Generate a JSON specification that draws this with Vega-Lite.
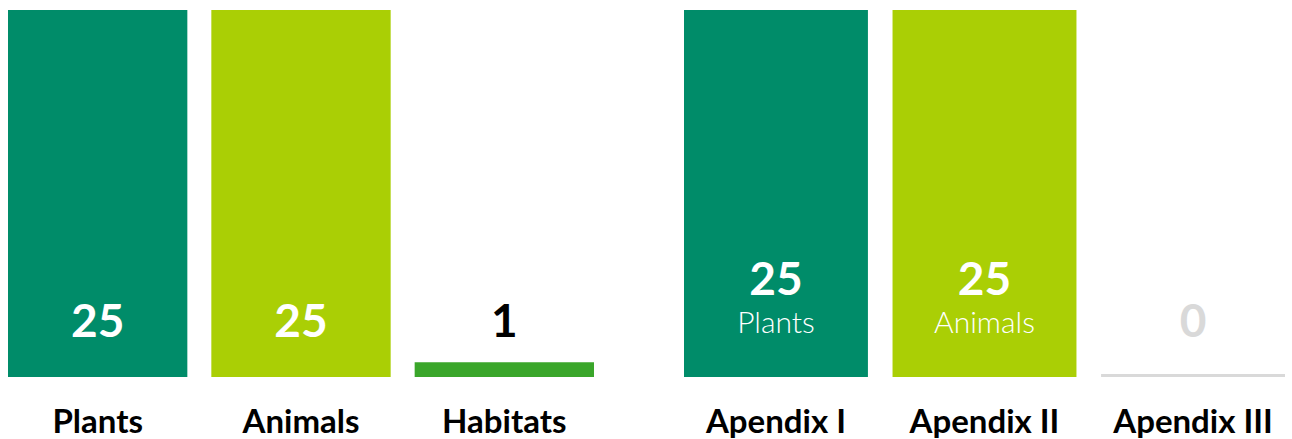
{
  "$schema": "https://vega.github.io/schema/vega-lite/v6.json",
  "padding": {"left": 8, "top": 10, "right": 7, "bottom": 0},
  "background": "white",
  "config": {"view": {"stroke": null}, "font": "Lato"},
  "spacing": 90,
  "data": {"values": [
    {"group": "Type", "category": "Plants", "value": 25, "series": "Plants", "sub": ""},
    {"group": "Type", "category": "Animals", "value": 25, "series": "Animals", "sub": ""},
    {"group": "Type", "category": "Habitats", "value": 1, "series": "Habitats", "sub": ""},
    {"group": "Apendix", "category": "Apendix I", "value": 25, "series": "Plants", "sub": "Plants"},
    {"group": "Apendix", "category": "Apendix II", "value": 25, "series": "Animals", "sub": "Animals"},
    {"group": "Apendix", "category": "Apendix III", "value": 0, "series": "None", "sub": ""}
  ]},
  "hconcat": [
    {
      "width": 586, "height": 367,
      "transform": [{"filter": "datum.group === 'Type'"}],
      "encoding": {
        "x": {"field": "category", "type": "nominal", "sort": null,
          "scale": {"paddingInner": 0.118, "paddingOuter": 0},
          "axis": {"title": null, "domain": false, "ticks": false, "tickSize": 0, "labelAngle": 0, "labelFont": "Lato", "labelFontSize": 33, "labelFontWeight": "bold", "labelColor": "#000000", "labelPadding": 55, "labelBaseline": "alphabetic"}}
      },
      "layer": [
        {"mark": {"type": "bar"},
         "encoding": {
           "y": {"field": "value", "type": "quantitative", "scale": {"domain": [0, 25], "nice": false}, "axis": null},
           "color": {"field": "series", "type": "nominal", "scale": {"domain": ["Plants", "Animals", "Habitats", "None"], "range": ["#008C69", "#AACF05", "#3AA62A", "#D9D9D9"]}, "legend": null}
         }},
        {"mark": {"type": "text", "font": "Lato", "fontWeight": "bold", "fontSize": 46, "baseline": "alphabetic", "dy": -40},
         "encoding": {
           "y": {"datum": 0, "type": "quantitative"},
           "text": {"field": "value", "type": "quantitative"},
           "color": {"condition": [{"test": "datum.series === 'Habitats'", "value": "#000000"}, {"test": "datum.value === 0", "value": "#D9D9D9"}], "value": "#FFFFFF"}
         }}
      ]
    },
    {
      "width": 601, "height": 367,
      "transform": [{"filter": "datum.group === 'Apendix'"}],
      "encoding": {
        "x": {"field": "category", "type": "nominal", "sort": null,
          "scale": {"paddingInner": 0.118, "paddingOuter": 0},
          "axis": {"title": null, "domain": false, "ticks": false, "tickSize": 0, "labelAngle": 0, "labelFont": "Lato", "labelFontSize": 33, "labelFontWeight": "bold", "labelColor": "#000000", "labelPadding": 55, "labelBaseline": "alphabetic"}}
      },
      "layer": [
        {"mark": {"type": "bar"},
         "encoding": {
           "y": {"field": "value", "type": "quantitative", "scale": {"domain": [0, 25], "nice": false}, "axis": null},
           "color": {"field": "series", "type": "nominal", "scale": {"domain": ["Plants", "Animals", "Habitats", "None"], "range": ["#008C69", "#AACF05", "#3AA62A", "#D9D9D9"]}, "legend": null}
         }},
        {"transform": [{"filter": "datum.value === 0"}],
         "mark": {"type": "bar", "color": "#D9D9D9"},
         "encoding": {
           "y": {"datum": 0, "type": "quantitative"},
           "y2": {"datum": 0.2}
         }},
        {"transform": [{"filter": "datum.value > 0"}],
         "mark": {"type": "text", "font": "Lato", "fontWeight": "bold", "fontSize": 46, "baseline": "alphabetic", "dy": -82, "color": "#FFFFFF"},
         "encoding": {
           "y": {"datum": 0, "type": "quantitative"},
           "text": {"field": "value", "type": "quantitative"}
         }},
        {"transform": [{"filter": "datum.value === 0"}],
         "mark": {"type": "text", "font": "Lato", "fontWeight": "bold", "fontSize": 46, "baseline": "alphabetic", "dy": -40, "color": "#D9D9D9"},
         "encoding": {
           "y": {"datum": 0, "type": "quantitative"},
           "text": {"field": "value", "type": "quantitative"}
         }},
        {"transform": [{"filter": "datum.sub !== ''"}],
         "mark": {"type": "text", "font": "Lato", "fontWeight": 300, "fontSize": 30, "baseline": "alphabetic", "dy": -44, "color": "#FFFFFF"},
         "encoding": {
           "y": {"datum": 0, "type": "quantitative"},
           "text": {"field": "sub", "type": "nominal"}
         }}
      ]
    }
  ]
}
